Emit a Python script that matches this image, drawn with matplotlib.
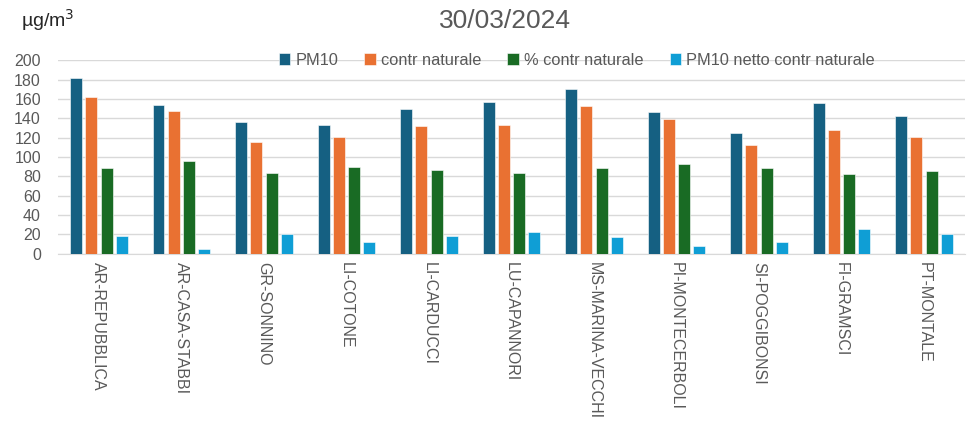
import numpy as np
import matplotlib
matplotlib.use("Agg")
import matplotlib.pyplot as plt

plt.rcParams['font.family'] = ['Liberation Sans', 'DejaVu Sans']

# dati
stazioni = ["AR-REPUBBLICA", "AR-CASA-STABBI", "GR-SONNINO", "LI-COTONE", "LI-CARDUCCI",
            "LU-CAPANNORI", "MS-MARINA-VECCHI", "PI-MONTECERBOLI", "SI-POGGIBONSI",
            "FI-GRAMSCI", "PT-MONTALE"]
pm10 = [182, 154, 136, 133, 150, 157, 170, 147, 125, 156, 142]
contr_naturale = [162, 148, 116, 121, 132, 133, 153, 139, 113, 128, 121]
perc_contr_naturale = [89, 96, 84, 90, 87, 84, 89, 93, 89, 82, 86]
pm10_netto = [18, 5, 20, 12, 18, 23, 17, 8, 12, 26, 20]

serie = [("PM10", pm10, "#156082"),
         ("contr naturale", contr_naturale, "#E97132"),
         ("% contr naturale", perc_contr_naturale, "#196B24"),
         ("PM10 netto contr naturale", pm10_netto, "#0F9ED5")]

grigio = "#595959"

fig = plt.figure(figsize=(9.77, 4.28), dpi=100)
ax = fig.add_axes([0.059, 0.407, 0.929, 0.452])

x = np.arange(len(stazioni))
passo = 0.185
larg = 0.145
for i, (nome, valori, colore) in enumerate(serie):
    ax.bar(x + (i - 1.5) * passo, valori, width=larg, color=colore, label=nome,
           edgecolor="white", linewidth=0.4, zorder=3)

ax.set_xlim(-0.5, len(stazioni) - 0.5)
ax.set_ylim(0, 200)
ax.set_yticks(range(0, 201, 20))
ax.yaxis.grid(True, color="#D9D9D9", linewidth=1, zorder=0)
for s in ["top", "right", "left"]:
    ax.spines[s].set_visible(False)
ax.spines["bottom"].set_color("#D9D9D9")
ax.tick_params(axis="y", length=0, labelsize=11.5, labelcolor=grigio, pad=12)
ax.tick_params(axis="x", length=0, labelsize=11.5, labelcolor=grigio, pad=6)
ax.set_xticks(x)
ax.set_xticklabels(stazioni, rotation=270, va="top", ha="center")

ax.legend(loc="center", bbox_to_anchor=(0.572, 1.0), ncol=4, frameon=False,
          fontsize=11.8, labelcolor=grigio, handlelength=0.7, handleheight=0.7,
          handletextpad=0.3, columnspacing=1.6, borderaxespad=0)

fig.text(0.517, 0.952, "30/03/2024", ha="center", va="center", fontsize=19, color=grigio)
fig.text(0.022, 0.952, "µg/m$^3$", ha="left", va="center", fontsize=14, color="#262626")

fig.savefig("out.png", dpi=100)
